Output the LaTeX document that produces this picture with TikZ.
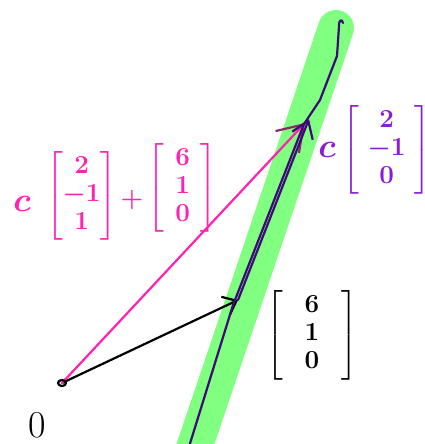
\RequirePackage{fix-cm}
\documentclass[tikz,border=0pt]{standalone}
\usepackage{amsmath}
\usetikzlibrary{arrows.meta,positioning}
\definecolor{hlgreen}{HTML}{80FF80}
\definecolor{penpink}{HTML}{FF22B0}
\definecolor{penviolet}{HTML}{8A1CD8}
\definecolor{pendark}{HTML}{3D0A78}
\definecolor{penmaroon}{HTML}{8A2A68}
\renewcommand{\arraystretch}{1.0}
\newcommand{\colvec}[4]{\setlength{\arraycolsep}{#1}\left[\begin{array}{c}#2\\#3\\#4\end{array}\right]}

\begin{document}
\begin{tikzpicture}[x=1pt, y=-1pt,
  pen/.style={line width=2.2pt, line cap=round, line join=round},
  hand/.style={inner sep=0pt, font=\fontsize{26}{28}\selectfont\boldmath},
  bigc/.style={inner sep=0pt, font=\fontsize{34}{38}\selectfont\boldmath},
]
\useasboundingbox (0,0) rectangle (425,444);
% highlighted line
\coordinate (top) at (336,28);
\coordinate (bot) at (186,472);
\draw[hlgreen, line width=36pt, line cap=round] (top) -- (bot);

\coordinate (O) at (62,383);
\coordinate (P) at (238,300);
\coordinate (Q) at (309,119);
\coordinate (hook) at (343,23);
\coordinate (end) at (188,450);

% vectors
\draw[pen, -{Straight Barb[length=12pt, width=20pt]}] (O) -- (P);
\draw[pen, penpink, -{Straight Barb[length=24pt, width=32pt, color=penmaroon]}] (O) -- (305,123);
\draw[pen] (O) ellipse (4pt and 3pt);
\draw[pen, pendark] (hook) .. controls (342,19) and (339,19) .. (339,26)
  -- (337,56) -- (320,100) -- (304,124) -- (233,305) -- (end);
\draw[pen, pendark, -{Straight Barb[length=16pt, width=22pt]}] (P) -- (Q);

% labels
\node[bigc, penpink] (cP) at (22,204) {$c$};
\node[hand, penpink, right=15pt of cP, yshift=8pt] (vP1) {$\colvec{0pt}{2}{-1}{1}$};
\node[hand, penpink, right=3pt of vP1, yshift=-4pt] (plusP) {$+$};
\node[hand, penpink, right=4pt of plusP, yshift=12pt] (vP2) {$\colvec{11pt}{6}{1}{0}$};

\node[bigc, penviolet] (cV) at (327,150) {$c$};
\node[hand, penviolet, right=6pt of cV] (vV) {$\colvec{9pt}{2}{-1}{0}$};

\node[hand] (vB) at (312,335) {$\colvec{22pt}{6}{1}{0}$};
\node[hand, font=\fontsize{38}{40}\selectfont] (zero) at (37,425) {0};
\end{tikzpicture}
\end{document}
